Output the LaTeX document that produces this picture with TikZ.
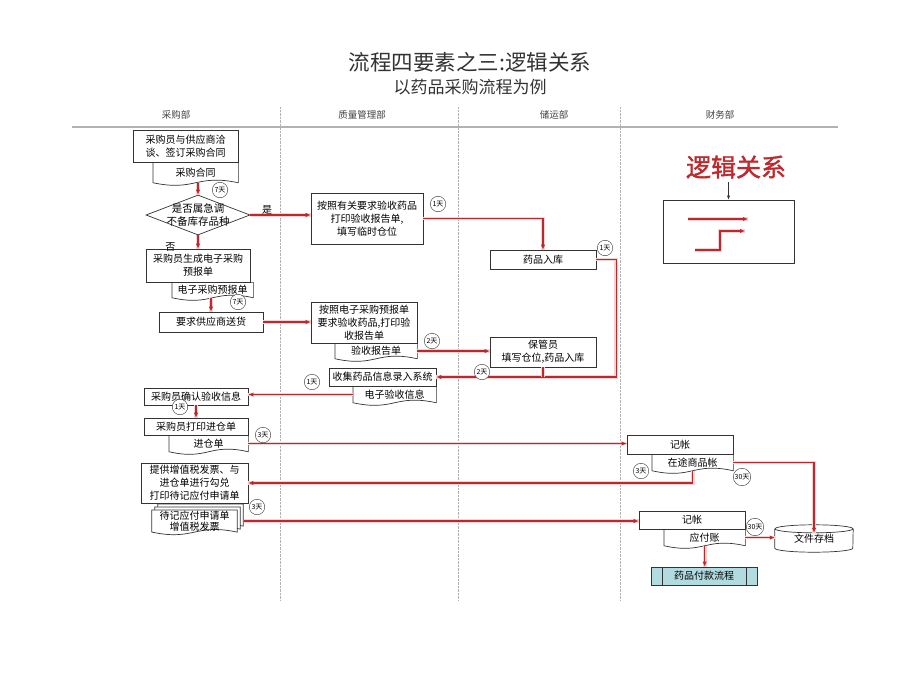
\documentclass[tikz,border=0pt]{standalone}
\usepackage{fontspec}
\newfontfamily\cjk[AutoFakeBold=1.5]{Noto Sans CJK SC}
\usepackage{tikz}
\usetikzlibrary{calc,arrows.meta,positioning,shapes.geometric,backgrounds}
\definecolor{flowred}{RGB}{190,40,45}
\definecolor{proccyan}{RGB}{178,219,224}
% outline of a document shape round a node
\newcommand\docedge[2][0]{%
\draw[docline] ($(#2.north west)+(#1,#1)$) -- ($(#2.north east)+(#1,#1)$)
 -- ($(#2.south east)+(#1,#1)$)
 .. controls ($(#2.south)+(#1,#1)+(0,9)$) and ($(#2.south)+(#1,#1)+(0,-9)$) ..
 ($(#2.south west)+(#1,#1)$) -- cycle;}

\begin{document}
\begin{tikzpicture}[x=1pt,y=1pt,
 lbl/.style={font=\cjk\fontsize{10}{13}\selectfont},
 box/.style={lbl,draw=black!80,fill=white,line width=0.7pt,inner sep=1pt,align=center},
 doc/.style={lbl,inner sep=1pt,align=center,anchor=north east},
 docline/.style={draw=black!80,line width=0.7pt},
 days/.style={draw=black!80,fill=white,circle,inner sep=0.6pt,minimum size=15.5pt,
   font=\cjk\fontsize{7}{8}\selectfont},
 flow/.style={draw=flowred,line width=1.4pt,-{Latex[length=5pt,width=4.5pt]},
   preaction={draw=flowred!20,line width=3.8pt,-}},
 lane/.style={font=\cjk\fontsize{9.5}{11}\selectfont,text=black!75}]
\useasboundingbox (0,0) rectangle (920,-690);

\node[font=\cjk\fontsize{21.5}{24}\selectfont,text=black!80] (title) at (470,-62)
{流程四要素之三:逻辑关系};
\node[font=\cjk\fontsize{17}{20}\selectfont,text=black!80] (subtitle) at (470,-87)
{以药品采购流程为例};

% lanes
\node[lane] (lane1) at (176,-115) {采购部};
\node[lane] (lane2) at (362,-115) {质量管理部};
\node[lane] (lane3) at (554,-115) {储运部};
\node[lane] (lane4) at (720,-115) {财务部};
\draw[gray!60,line width=1.4pt] (72,-127) -- (838,-127);
\foreach \x in {280,458,620}
 \draw[gray!60,densely dotted] (\x,-107) -- (\x,-600);

% 采购部
\node[box,minimum width=105pt,minimum height=32pt] (talk) at (185.5,-146)
{采购员与供应商洽\\谈、签订采购合同};
\node[doc,minimum width=85pt,minimum height=20pt] (hetong) at (talk.south east)
{采购合同};
\docedge{hetong}
\node[draw=black!80,line width=0.7pt,diamond,fill=white,minimum width=104pt,minimum height=40pt,
 inner sep=0pt,label={[font=\cjk\fontsize{10.5}{13}\selectfont,align=center]center:{是否属急调\\不备库存品种}}]
 (urgent) at (198,-215) {};
\node[box,minimum width=104pt,minimum height=33pt] (genpre) at (198,-265.5)
{采购员生成电子采购\\预报单};
\node[doc,minimum width=81pt,minimum height=15pt] (predoc) at ($(genpre.south east)+(3,0)$)
{电子采购预报单};
\docedge{predoc}
\node[box,minimum width=104pt,minimum height=20pt] (delivery) at (211,-322)
{要求供应商送货};
\node[box,minimum width=104pt,minimum height=17pt] (confirm) at (196,-396.5)
{采购员确认验收信息};
\node[box,minimum width=104pt,minimum height=17pt] (printin) at (196,-426.5)
{采购员打印进仓单};
\node[doc,minimum width=79pt,minimum height=16pt] (indoc) at (printin.south east)
{进仓单};
\docedge{indoc}
\node[box,minimum width=107pt,minimum height=40pt] (invoice) at (194.5,-483)
{提供增值税发票、与\\进仓单进行勾兑\\打印待记应付申请单};
\node[doc,anchor=center,inner sep=0.5pt,font=\cjk\fontsize{10}{11.5}\selectfont,
 minimum width=85pt,minimum height=20pt] (billdoc) at (194.5,-521)
{待记应付申请单\\增值税发票};
\begin{scope}[on background layer,docline/.append style={fill=white}]
\docedge[6]{billdoc}
\docedge[3]{billdoc}
\docedge{billdoc}
\end{scope}

% 质量管理部
\node[box,minimum width=112pt,minimum height=51pt] (check1) at (367,-218.5)
{按照有关要求验收药品\\打印验收报告单,\\填写临时仓位};
\node[box,minimum width=106pt,minimum height=41pt] (check2) at (364,-322.5)
{按照电子采购预报单\\要求验收药品,打印验\\收报告单};
\node[doc,minimum width=82pt,minimum height=15pt] (reportdoc) at (check2.south east)
{验收报告单};
\docedge{reportdoc}
\node[box,minimum width=107pt,minimum height=18pt] (collect) at (382.5,-377)
{收集药品信息录入系统};
\node[doc,minimum width=83pt,minimum height=16pt] (evdoc) at (collect.south east)
{电子验收信息};
\docedge{evdoc}

% 储运部
\node[box,minimum width=106pt,minimum height=19pt] (store) at (543,-259.5) {药品入库};
\node[box,minimum width=106pt,minimum height=30pt] (keeper) at (543,-352)
{保管员\\填写仓位,药品入库};

% 财务部
\node[font=\cjk\bfseries\fontsize{25}{28}\selectfont,text=flowred] (legendtitle) at (736,-167)
{逻辑关系};
\node[draw=black!80,line width=0.7pt,minimum width=131pt,minimum height=63pt] (legend)
at (728.5,-231.5) {};
\coordinate (ka) at (688,-219);
\coordinate (kb) at (748,-219);
\coordinate (kc) at (695,-250);
\coordinate (kd) at (745,-231);
\node[box,minimum width=106pt,minimum height=19pt] (book1) at (680,-444.5) {记帐};
\node[doc,minimum width=81pt,minimum height=16pt] (transitdoc) at (book1.south east)
{在途商品帐};
\docedge{transitdoc}
\node[box,minimum width=106pt,minimum height=18pt] (book2) at (692,-520) {记帐};
\node[doc,minimum width=81pt,minimum height=16pt] (paydoc) at (book2.south east) {应付账};
\docedge{paydoc}
\node[lbl,minimum width=78pt,minimum height=19pt,inner sep=0pt] (archive) at (814,-538.5)
{文件存档};
\draw[docline] (archive.north west) -- (archive.south west)
 arc[start angle=180,end angle=360,x radius=39pt,y radius=4pt] -- (archive.north east);
\draw[docline] (archive.north) ellipse[x radius=39pt,y radius=4pt];
\node[box,fill=proccyan,minimum width=106pt,minimum height=18pt] (payproc) at (704,-576)
{药品付款流程};
\draw[docline] ($(payproc.north west)+(12,0)$) -- ($(payproc.south west)+(12,0)$);
\draw[docline] ($(payproc.north east)+(-11,0)$) -- ($(payproc.south east)+(-11,0)$);

% connectors
\draw[-{Latex[length=4pt,width=3pt]},black!80] (legendtitle.south -| legend.north) -- (legend.north);
\draw[flow] (ka) -- (kb);
\draw[flow] (kc) -| ($(kc)!0.5!(kd)$) |- (kd);
\draw[flow] (urgent.north |- hetong.south) -- (urgent.north);
\draw[flow] (urgent.east) -- node[lbl,above,pos=0.28,inner sep=0pt,text=black] {是}
 (urgent.east -| check1.west);
\draw[flow] (urgent.south) -- node[lbl,pos=0.9,left=22pt,inner sep=0pt,text=black] {否}
 (genpre.north);
\draw[flow] (delivery.north |- predoc.south) -- (delivery.north);
\draw[flow] (delivery.east) -- (delivery.east -| check2.west);
\draw[flow] (check1.east) -| (store.north);
\draw[flow] (reportdoc.east) -- (reportdoc.east -| keeper.west);
\draw[flow] (store.east) -- ++(20,0) |- (collect.east);
\draw[flow,-] (keeper.south) -- (keeper.south |- collect.east);
\draw[flow] (evdoc.west) -- (evdoc.west -| confirm.east);
\draw[flow] (confirm.south) -- (printin.north);
\draw[flow] (indoc.east) -- (indoc.east -| book1.west);
\draw[flow] (transitdoc.south) |- (invoice.east);
\draw[flow] (transitdoc.east) -| ($(archive.north)+(0,-4)$);
\draw[flow] ($(billdoc.east)+(7,0)$) -- (billdoc.east -| book2.west);
\draw[flow] (paydoc.east) -- (paydoc.east -| archive.west);
\draw[flow] (paydoc.south) -- (paydoc.south |- payproc.north);

% days
\node[days] (d7a) at (220,-190) {7天};
\node[days] (d1a) at (438,-204) {1天};
\node[days] (d1d) at (605,-248) {1天};
\node[days] (d7b) at (238,-302) {7天};
\node[days] (d2a) at (432,-341) {2天};
\node[days] (d2b) at (482,-372) {2天};
\node[days] (d1b) at (312,-382) {1天};
\node[days] (d1c) at (180,-407) {1天};
\node[days] (d3a) at (263,-435) {3天};
\node[days] (d3c) at (641,-471) {3天};
\node[days] (d30a) at (742,-477) {30天};
\node[days] (d3b) at (257,-507) {3天};
\node[days] (d30b) at (755,-527) {30天};
\end{tikzpicture}
\end{document}
